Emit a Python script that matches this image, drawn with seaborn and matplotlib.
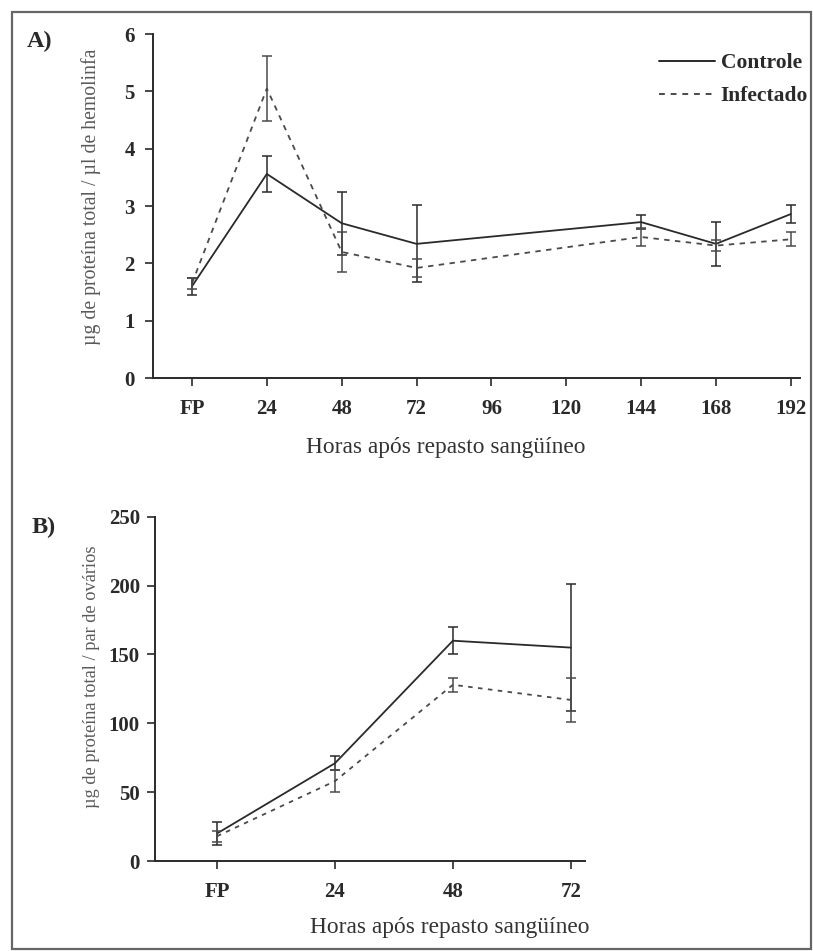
import numpy as np
import pandas as pd
import matplotlib
matplotlib.use("Agg")
import matplotlib.pyplot as plt
import seaborn as sns
from matplotlib.patches import Rectangle
from matplotlib.lines import Line2D

# ---------------- data ----------------
tick_hours_a = [0, 24, 48, 72, 96, 120, 144, 168, 192]
tick_labels_a = ["FP", "24", "48", "72", "96", "120", "144", "168", "192"]
hours_a = [0, 24, 48, 72, 144, 168, 192]
controle_a = [1.60, 3.56, 2.70, 2.34, 2.72, 2.34, 2.86]
controle_a_err = [0.15, 0.32, 0.55, 0.67, 0.12, 0.39, 0.15]
infectado_a = [1.65, 5.05, 2.20, 1.92, 2.46, 2.31, 2.42]
infectado_a_err = [0.10, 0.56, 0.35, 0.15, 0.15, 0.10, 0.12]

tick_hours_b = [0, 24, 48, 72]
tick_labels_b = ["FP", "24", "48", "72"]
hours_b = [0, 24, 48, 72]
controle_b = [20.0, 71.0, 160.0, 155.0]
controle_b_err = [8.0, 5.0, 10.0, 46.0]
infectado_b = [18.0, 58.0, 128.0, 117.0]
infectado_b_err = [4.0, 8.0, 5.0, 16.0]

series_names = ["Controle", "Infectado"]

# ---------------- style ----------------
sns.set_style("ticks")
plt.rcParams["font.family"] = ["Liberation Serif", "DejaVu Serif"]
ink = "#2a2a2a"
ink2 = "#4a4a4a"
gray_txt = "#5a5a5a"

fig = plt.figure(figsize=(8.13, 9.51), dpi=100)
axA = fig.add_axes([0.1882, 0.6025, 0.796, 0.3617])
axB = fig.add_axes([0.1907, 0.0946, 0.529, 0.3620])


def build_df(hours, c, ce, i, ie):
    return pd.DataFrame({
        "hora": hours * 2,
        "valor": c + i,
        "err": ce + ie,
        "grupo": [series_names[0]] * len(hours) + [series_names[1]] * len(hours),
    })


def draw(ax, df, dash, xpad, ypad):
    sns.lineplot(data=df, x="hora", y="valor", hue="grupo", style="grupo",
                 palette={series_names[0]: ink, series_names[1]: ink2},
                 dashes={series_names[0]: "", series_names[1]: dash},
                 linewidth=1.3, ax=ax, legend=False, errorbar=None)
    for name, col in zip(series_names, [ink, ink2]):
        sub = df[df["grupo"] == name]
        ax.errorbar(sub["hora"], sub["valor"], yerr=sub["err"], fmt="none",
                    ecolor=col, elinewidth=1.1, capsize=3.5, capthick=1.1)
    for side in ["top", "right"]:
        ax.spines[side].set_visible(False)
    for side in ["left", "bottom"]:
        ax.spines[side].set_linewidth(1.4)
        ax.spines[side].set_color(ink)
    ax.tick_params(axis="both", direction="out", length=6, width=1.2,
                   colors=ink, labelsize=15)
    ax.tick_params(axis="x", pad=xpad)
    ax.tick_params(axis="y", pad=ypad)
    ax.set_xlabel("")
    ax.set_ylabel("")


dfA = build_df(hours_a, controle_a, controle_a_err, infectado_a, infectado_a_err)
dfB = build_df(hours_b, controle_b, controle_b_err, infectado_b, infectado_b_err)

draw(axA, dfA, (3, 3), 9, 7)
axA.set_xlim(-12.5, 195)
axA.set_ylim(0, 6)
axA.set_yticks(range(0, 7))
axA.set_xticks(tick_hours_a)
axA.set_xticklabels(tick_labels_a)

draw(axB, dfB, (2.5, 3), 9, 5)
axB.set_xlim(-12.6, 74.9)
axB.set_ylim(0, 250)
axB.set_yticks(range(0, 251, 50))
axB.set_xticks(tick_hours_b)
axB.set_xticklabels(tick_labels_b)

for ax in (axA, axB):
    for lab in ax.get_xticklabels() + ax.get_yticklabels():
        lab.set_fontweight("bold")

# legend (panel A)
handles = [Line2D([0], [0], color=ink, lw=1.4, ls="-"),
           Line2D([0], [0], color=ink2, lw=1.4, ls=(0, (3, 3)))]
leg = fig.legend(handles, series_names, loc="upper right",
                 bbox_to_anchor=(808 / 813, 1 - 53 / 951), frameon=False,
                 borderaxespad=0, borderpad=0,
                 handlelength=2.6, handletextpad=0.25, labelspacing=0.6,
                 prop={"size": 15.5, "weight": "bold"})
for t in leg.get_texts():
    t.set_color(ink)

# axis labels
fig.text(91 / 813, 1 - 197 / 951, "µg de proteína total / µl de hemolinfa",
         rotation=90, ha="center", va="center", fontsize=14.2, color=gray_txt)
fig.text(91 / 813, 1 - 677 / 951, "µg de proteína total / par de ovários",
         rotation=90, ha="center", va="center", fontsize=13.2, color=gray_txt)
fig.text(446 / 813, 1 - 448 / 951, "Horas após repasto sangüíneo",
         ha="center", va="center", fontsize=16.8, color="#333333")
fig.text(450 / 813, 1 - 928 / 951, "Horas após repasto sangüíneo",
         ha="center", va="center", fontsize=16.8, color="#333333")

# panel letters
fig.text(27 / 813, 1 - 41 / 951, "A)", ha="left", va="center",
         fontsize=17.5, fontweight="bold", color=ink)
fig.text(32 / 813, 1 - 527 / 951, "B)", ha="left", va="center",
         fontsize=17.5, fontweight="bold", color=ink)

# page frame
fig.patches.append(Rectangle((12 / 813, 1 - 949 / 951), (811 - 12) / 813,
                             (949 - 12) / 951, transform=fig.transFigure,
                             fill=False, edgecolor="#666666", lw=1.6))

fig.savefig("out.png", dpi=100)
